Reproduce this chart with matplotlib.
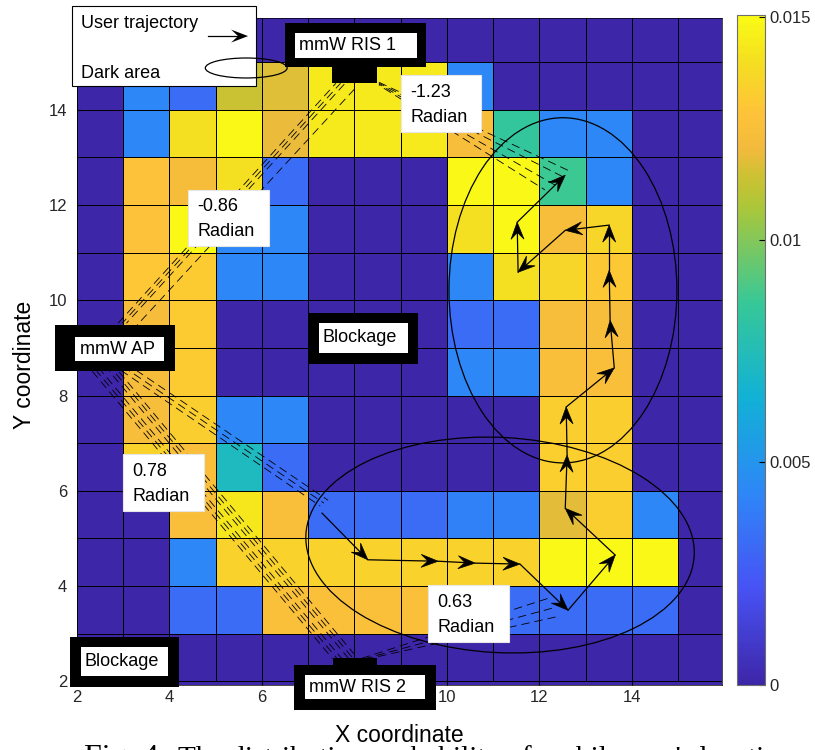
import matplotlib
matplotlib.use('Agg')
import matplotlib.pyplot as plt
import numpy as np
from matplotlib.colors import LinearSegmentedColormap
from matplotlib.patches import Rectangle, Ellipse, Polygon

plt.rcParams['font.family'] = ['Liberation Sans', 'DejaVu Sans']

# cell edges of the grid
x_edges = np.arange(2, 17)
y_edges = np.arange(2, 17)

# probability per cell (x 1e-3), first row is y=15 (top), columns x=2..15
prob_rows = [
    [0, 0, 0, 0, 0, 0, 0, 0, 0, 0, 0, 0, 0, 0],
    [0, 4.3, 3.2, 11.4, 11.7, 14.4, 14.4, 14.4, 4.3, 0, 0, 0, 0, 0],
    [0, 4.3, 14.0, 14.9, 11.9, 14.4, 14.4, 14.4, 12.4, 8.4, 4.3, 4.3, 0, 0],
    [0, 12.8, 12.3, 14.0, 3.2, 0, 0, 0, 14.9, 14.9, 8.7, 4.3, 0, 0],
    [0, 12.8, 14.9, 4.3, 4.3, 0, 0, 0, 14.0, 14.9, 12.4, 13.6, 0, 0],
    [0, 13.0, 13.2, 4.3, 4.3, 0, 0, 0, 4.3, 14.0, 13.6, 13.1, 0, 0],
    [0, 12.3, 13.2, 0, 0, 0, 0, 0, 3.2, 3.2, 12.4, 12.4, 0, 0],
    [0, 12.3, 13.2, 0, 0, 0, 0, 0, 4.3, 4.3, 12.5, 12.5, 0, 0],
    [0, 12.4, 13.3, 4.3, 4.3, 0, 0, 0, 0, 0, 13.3, 13.3, 0, 0],
    [0, 13.5, 12.5, 7.2, 3.2, 0, 0, 0, 0, 0, 13.4, 13.3, 0, 0],
    [0, 0, 12.5, 14.3, 12.5, 3.2, 3.2, 3.2, 4.1, 4.1, 11.8, 13.3, 4.3, 0],
    [0, 0, 4.3, 13.5, 13.5, 13.5, 13.5, 13.5, 13.5, 13.5, 14.9, 14.9, 14.9, 0],
    [0, 0, 3.2, 3.2, 12.6, 12.6, 12.6, 12.6, 12.6, 3.2, 3.2, 3.2, 3.2, 0],
    [0, 0, 0, 0, 0, 0, 0, 0, 0, 0, 0, 0, 0, 0],
]

# user trajectory
traj_x = [7.30, 8.29, 9.81, 10.61, 11.58, 12.62, 13.64, 12.56, 12.60, 12.58,
          13.62, 13.53, 13.51, 13.51, 12.56, 11.54, 11.52, 12.56]
traj_y = [5.53, 4.55, 4.52, 4.48, 4.46, 3.49, 4.65, 5.63, 6.75, 7.76,
          8.58, 9.58, 10.63, 11.58, 11.47, 10.59, 11.64, 12.63]

# beams (dashed), start -> end
beam_ap_ris1 = [((2.89, 9.52), (7.60, 14.56)), ((2.98, 9.52), (7.70, 14.56)),
                ((3.07, 9.52), (7.80, 14.56)), ((3.30, 9.48), (8.06, 14.50))]
beam_ris1_user = [((8.53, 14.58), (12.71, 12.69)), ((8.53, 14.56), (12.56, 12.57)),
                  ((8.53, 14.54), (12.34, 12.42)), ((8.53, 14.52), (12.12, 12.32))]
beam_ap_user = [((2.95, 8.53), (7.26, 5.68)), ((3.04, 8.58), (7.34, 5.74)),
                ((3.13, 8.63), (7.43, 5.80))]
beam_ap_ris2 = [((2.33, 8.51), (7.52, 2.48)), ((2.43, 8.51), (7.62, 2.48)),
                ((2.53, 8.51), (7.72, 2.48)), ((2.70, 8.51), (7.87, 2.48)),
                ((2.80, 8.51), (7.97, 2.48)), ((2.90, 8.51), (8.07, 2.48))]
beam_ris2_user = [((8.16, 2.48), (12.19, 3.74)), ((8.25, 2.48), (12.34, 3.55)),
                  ((8.34, 2.48), (12.45, 3.37))]

angle_labels = ['-1.23', '-0.86', '0.78', '0.63']

# parula-like colormap
parula = LinearSegmentedColormap.from_list('parula', [
    (0.000, (0.2422, 0.1504, 0.6603)),
    (0.143, (0.2810, 0.3228, 0.9579)),
    (0.286, (0.1786, 0.5289, 0.9682)),
    (0.429, (0.0689, 0.6948, 0.8394)),
    (0.571, (0.2161, 0.7843, 0.5923)),
    (0.714, (0.6720, 0.7793, 0.2227)),
    (0.760, (0.8000, 0.7600, 0.2000)),
    (0.800, (0.9500, 0.7300, 0.2400)),
    (0.857, (0.9970, 0.7659, 0.2199)),
    (0.930, (0.9600, 0.8700, 0.1300)),
    (1.000, (0.9769, 0.9839, 0.0805)),
])

fig = plt.figure(figsize=(8.15, 7.5), dpi=100)
ax = fig.add_axes([77 / 815, 65 / 750, 645 / 815, 667 / 750])
ax.set_facecolor(parula(0.0))

Z = np.array(prob_rows)[::-1] * 1e-3
mesh = ax.pcolormesh(x_edges, y_edges, Z, cmap=parula, vmin=0, vmax=0.01505,
                     edgecolors='k', linewidth=0.6)
ax.set_xlim(2, 15.95)
ax.set_ylim(1.92, 15.93)
ax.set_xticks(range(2, 16, 2))
ax.set_yticks(range(2, 16, 2))
ax.tick_params(direction='in', length=3, labelsize=12, labelcolor='#262626')
ax.tick_params(axis='y', pad=7)
for s in ax.spines.values():
    s.set_linewidth(0.5)
ax.set_xlabel('X coordinate', fontsize=16.5, labelpad=14)
ax.set_ylabel('Y coordinate', fontsize=16.5)
ax.yaxis.set_label_coords(-0.063, 0.48)

# beams
for group in [beam_ap_ris1, beam_ris1_user, beam_ap_user, beam_ap_ris2, beam_ris2_user]:
    for k, (a, b) in enumerate(group):
        ax.plot([a[0], b[0]], [a[1], b[1]], color='k', lw=0.6,
                linestyle=(3 * k, (10, 6)), zorder=3)


def draw_arrow(p0, p1, head_len=17, head_w=13, clip=True):
    t = ax.transData
    a = t.transform(p0)
    b = t.transform(p1)
    d = (b - a) / np.hypot(*(b - a))
    n = np.array([-d[1], d[0]])
    back = b - d * head_len
    notch = b - d * head_len * 0.6
    pts = t.inverted().transform([b, back + n * head_w / 2, notch, back - n * head_w / 2])
    q = t.inverted().transform([notch])[0]
    ax.plot([p0[0], q[0]], [p0[1], q[1]], color='k', lw=0.9, zorder=4, clip_on=clip)
    ax.add_patch(Polygon(pts, closed=True, fc='k', ec='k', lw=0.5, zorder=4,
                         clip_on=clip))


for i in range(len(traj_x) - 1):
    draw_arrow((traj_x[i], traj_y[i]), (traj_x[i + 1], traj_y[i + 1]))

# dark areas
ax.add_patch(Ellipse((12.51, 10.21), 4.93, 7.25, fill=False, ec='k', lw=0.9, zorder=4))
ax.add_patch(Ellipse((11.15, 4.86), 8.41, 4.52, angle=-3, fill=False, ec='k', lw=0.9,
                     zorder=4))


def black_box(x0, x1, y0, y1, ix0, ix1, iy0, iy1, label, tx, ty):
    ax.add_patch(Rectangle((x0, y0), x1 - x0, y1 - y0, fc='k', ec='none',
                           zorder=5, clip_on=False))
    ax.add_patch(Rectangle((ix0, iy0), ix1 - ix0, iy1 - iy0, fc='white', ec='none',
                           zorder=6, clip_on=False))
    ax.text(tx, ty, label, fontsize=13, ha='left', va='center', zorder=7)


black_box(6.50, 9.55, 14.90, 15.82, 6.72, 9.35, 15.09, 15.61, 'mmW RIS 1', 6.80, 15.36)
ax.add_patch(Rectangle((7.52, 14.56), 0.97, 0.36, fc='k', zorder=5, clip_on=False))
black_box(1.52, 4.12, 8.51, 9.48, 1.96, 3.88, 8.72, 9.23, 'mmW AP', 2.06, 8.97)
black_box(7.00, 9.38, 8.66, 9.73, 7.24, 9.16, 8.89, 9.52, 'Blockage', 7.32, 9.22)
black_box(1.85, 4.21, 1.87, 2.92, 2.09, 3.97, 2.11, 2.71, 'Blockage', 2.17, 2.42)
black_box(6.69, 9.77, 1.39, 2.34, 6.93, 9.53, 1.62, 2.13, 'mmW RIS 2', 7.02, 1.87)
ax.add_patch(Rectangle((7.54, 2.32), 0.95, 0.16, fc='k', zorder=5, clip_on=False))

# angle labels
label_boxes = [(9.01, 10.74, 13.53, 14.73), (4.40, 6.15, 11.14, 12.32),
               (3.00, 4.75, 5.57, 6.77), (9.59, 11.34, 2.82, 4.02)]
for txt, (x0, x1, y0, y1) in zip(angle_labels, label_boxes):
    ax.add_patch(Rectangle((x0, y0), x1 - x0, y1 - y0, fc='white', ec='#e6e6e6',
                           lw=0.8, zorder=6))
    h = y1 - y0
    ax.text(x0 + 0.2, y1 - 0.30 * h, txt, fontsize=13, va='center', zorder=7)
    ax.text(x0 + 0.2, y1 - 0.74 * h, 'Radian', fontsize=13, va='center', zorder=7)

# legend box
ax.add_patch(Rectangle((1.89, 14.50), 3.98, 1.68, fc='white', ec='k', lw=0.8,
                       zorder=6, clip_on=False))
ax.text(2.09, 15.82, 'User trajectory', fontsize=13, va='center', zorder=7)
ax.text(2.09, 14.77, 'Dark area', fontsize=13, va='center', zorder=7)
ax.add_patch(Ellipse((5.66, 14.88), 1.77, 0.42, fill=False, ec='k', lw=0.9,
                     zorder=7, clip_on=False))
ax.plot([4.83, 5.45], [15.55, 15.55], color='k', lw=0.9, zorder=7, clip_on=False)
ax.add_patch(Polygon(ax.transData.inverted().transform(
    [ax.transData.transform((5.70, 15.55)) + v for v in
     [(0, 0), (-17, 6.5), (-10, 0), (-17, -6.5)]]), closed=True, fc='k', zorder=7,
    clip_on=False))

# colorbar
cax = fig.add_axes([737 / 815, 65 / 750, 28 / 815, 670 / 750])
cb = fig.colorbar(mesh, cax=cax, ticks=[0, 0.005, 0.01, 0.015])
cb.ax.set_yticklabels(['0', '0.005', '0.01', '0.015'])
cax.tick_params(direction='in', length=4, labelsize=12, labelcolor='#262626')
cb.outline.set_edgecolor('#6e6e6e')
cb.outline.set_linewidth(0.8)

# caption (cut by the bottom edge)
fig.text(84 / 815, 1 - 766 / 750, 'Fig. 4.', family='Liberation Serif', fontsize=23)
fig.text(178 / 815, 1 - 766 / 750, "The distribution probability of mobile user's location",
         family='Liberation Serif', fontsize=21)

fig.savefig('out.png', dpi=100)
